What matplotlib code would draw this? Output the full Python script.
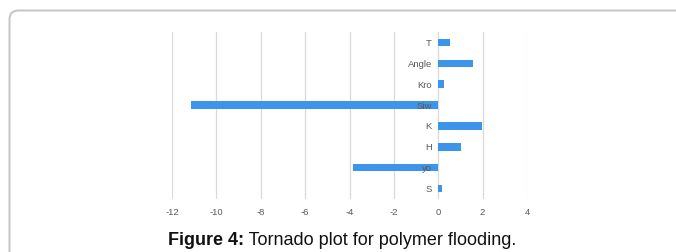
import matplotlib
matplotlib.use("Agg")
import matplotlib.pyplot as plt
from matplotlib.patches import FancyBboxPatch

# parameters from top to bottom
categories = ["T", "Angle", "Kro", "Siw", "K", "H", "yo", "S"]
values = [0.53, 1.55, 0.27, -11.13, 1.99, 1.02, -3.82, 0.17]
x_ticks = [-12, -10, -8, -6, -4, -2, 0, 2, 4]

BAR_COLOR = "#3d94eb"
GRID_COLOR = "#d9d9d9"
TEXT_COLOR = "#595959"

plt.rcParams["font.family"] = ["Liberation Sans", "DejaVu Sans"]

fig = plt.figure(figsize=(6.76, 2.53), dpi=100)
fig.patch.set_facecolor("white")

# frame around the panel: rounded top-left corner, runs off the right and bottom edges
frame = FancyBboxPatch(
    (0.095, -1.0), 10.0, 1.0 + 2.415,
    boxstyle="round,pad=0,rounding_size=0.09",
    transform=fig.dpi_scale_trans, facecolor="none",
    edgecolor="#c4c4c4", linewidth=1.4, clip_on=False,
)
fig.patches.append(frame)

ax = fig.add_axes([172 / 676, 1 - 200 / 253, 355 / 676, 167 / 253])
positions = list(range(len(categories)))[::-1]
ax.barh(positions, values, height=0.36, color=BAR_COLOR, zorder=2)

for pos, name in zip(positions, categories):
    ax.annotate(name, (0, pos), xytext=(-4.5, 0), textcoords="offset points",
                ha="right", va="center", fontsize=6.8, color=TEXT_COLOR, zorder=3)

ax.set_xlim(-12, 4)
ax.set_ylim(-0.5, len(categories) - 0.5)
ax.set_xticks(x_ticks)
ax.set_xticklabels([str(t) for t in x_ticks], fontsize=6.8, color=TEXT_COLOR)
ax.set_yticks([])
ax.tick_params(axis="x", length=0, pad=6)
ax.grid(axis="x", color=GRID_COLOR, linewidth=0.9, zorder=0)
for spine in ax.spines.values():
    spine.set_visible(False)

cap = fig.text(168 / 676, 1 - 245 / 253, "Figure 4:", fontsize=13,
               fontweight="bold", ha="left", va="baseline", color="#111111")
fig.canvas.draw()
rest = fig.text(0, 0, " Tornado plot for polymer flooding.", fontsize=13,
                ha="left", va="baseline", color="#111111")
bbox = cap.get_window_extent()
rest.set_position((bbox.x1 / fig.bbox.width, 1 - 245 / 253))

fig.savefig("out.png", dpi=100)
